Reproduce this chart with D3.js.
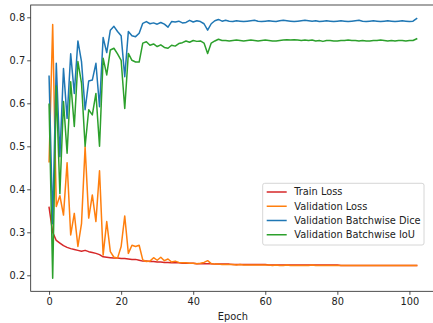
<!DOCTYPE html>
<html><head><meta charset="utf-8">
<script src="https://cdn.jsdelivr.net/npm/d3@7"></script>
<style>body{margin:0;background:#fff}svg{display:block}text{font-family:"DejaVu Sans",sans-serif}</style>
</head><body>
<svg id="c" width="433" height="323"></svg>
<script>
const seriesNames = ["Train Loss","Validation Loss","Validation Batchwise Dice","Validation Batchwise IoU"];
const trainLoss = [0.358,0.300,0.281,0.275,0.269,0.265,0.262,0.260,0.258,0.256,0.258,0.255,0.253,0.251,0.248,0.243,0.242,0.241,0.240,0.240,0.239,0.239,0.238,0.237,0.237,0.235,0.233,0.233,0.232,0.232,0.231,0.231,0.230,0.230,0.229,0.229,0.229,0.228,0.228,0.228,0.228,0.227,0.227,0.227,0.227,0.227,0.226,0.226,0.226,0.226,0.226,0.225,0.225,0.225,0.225,0.225,0.225,0.225,0.225,0.225,0.225,0.224,0.224,0.224,0.224,0.224,0.224,0.224,0.224,0.224,0.224,0.224,0.224,0.224,0.224,0.224,0.224,0.224,0.224,0.224,0.224,0.223,0.223,0.223,0.223,0.223,0.223,0.223,0.223,0.223,0.223,0.223,0.223,0.223,0.223,0.223,0.223,0.223,0.223,0.223,0.223,0.223,0.223];
const valLoss = [0.464,0.783,0.360,0.385,0.340,0.462,0.294,0.344,0.267,0.320,0.499,0.333,0.387,0.325,0.443,0.247,0.325,0.255,0.242,0.240,0.267,0.338,0.251,0.270,0.267,0.270,0.236,0.232,0.233,0.241,0.235,0.242,0.234,0.238,0.231,0.233,0.230,0.229,0.229,0.228,0.228,0.227,0.228,0.230,0.234,0.227,0.226,0.226,0.225,0.225,0.225,0.225,0.224,0.225,0.224,0.224,0.224,0.224,0.224,0.224,0.224,0.224,0.223,0.224,0.223,0.223,0.224,0.223,0.223,0.223,0.223,0.223,0.223,0.224,0.223,0.223,0.223,0.223,0.223,0.223,0.223,0.223,0.223,0.223,0.223,0.223,0.223,0.223,0.223,0.223,0.223,0.223,0.223,0.223,0.223,0.223,0.223,0.223,0.223,0.223,0.223,0.223,0.223];
const valDice = [0.663,0.320,0.693,0.476,0.681,0.565,0.715,0.623,0.745,0.697,0.585,0.652,0.654,0.693,0.592,0.753,0.718,0.770,0.779,0.767,0.757,0.662,0.767,0.757,0.755,0.763,0.786,0.790,0.785,0.787,0.784,0.788,0.784,0.777,0.790,0.789,0.791,0.787,0.788,0.793,0.789,0.792,0.790,0.785,0.770,0.785,0.792,0.795,0.791,0.793,0.791,0.790,0.792,0.791,0.790,0.791,0.792,0.793,0.791,0.790,0.791,0.792,0.791,0.790,0.792,0.793,0.792,0.791,0.790,0.791,0.792,0.793,0.792,0.791,0.792,0.790,0.791,0.792,0.791,0.790,0.791,0.792,0.791,0.790,0.791,0.792,0.793,0.791,0.790,0.791,0.792,0.791,0.790,0.791,0.792,0.791,0.790,0.791,0.792,0.791,0.790,0.791,0.797];
const valIoU = [0.598,0.193,0.640,0.390,0.604,0.484,0.650,0.546,0.697,0.647,0.500,0.585,0.573,0.623,0.500,0.705,0.666,0.724,0.728,0.715,0.700,0.588,0.716,0.700,0.696,0.696,0.740,0.743,0.735,0.738,0.732,0.736,0.730,0.728,0.735,0.733,0.739,0.741,0.745,0.742,0.746,0.744,0.745,0.740,0.716,0.740,0.745,0.749,0.746,0.746,0.745,0.746,0.747,0.746,0.745,0.746,0.747,0.746,0.745,0.746,0.747,0.746,0.745,0.745,0.746,0.747,0.748,0.747,0.748,0.747,0.746,0.747,0.746,0.747,0.745,0.746,0.744,0.746,0.746,0.745,0.745,0.746,0.746,0.747,0.746,0.746,0.745,0.746,0.745,0.745,0.746,0.746,0.747,0.746,0.745,0.746,0.745,0.746,0.746,0.745,0.746,0.746,0.750];
const xTicks = [0,20,40,60,80,100];
const yTicks = [0.2,0.3,0.4,0.5,0.6,0.7,0.8];
const colors = ["#d62728","#ff7f0e","#1f77b4","#2ca02c"];
const xLabel = "Epoch";

const svg = d3.select("#c");
const L = 30.7, R = 435, T = 5, B = 291.3;
const x = d3.scaleLinear().domain([-5.1, 107.1]).range([L, R]);
const y = d3.scaleLinear().domain([0.1628, 0.8286]).range([B, T]);

const all = [trainLoss, valLoss, valDice, valIoU];
const line = d3.line().x((d,i)=>x(i)).y(d=>y(d));
const clipG = svg.append("g");
all.forEach((s,k)=>{
  clipG.append("path").datum(s).attr("d", line).attr("fill","none")
    .attr("stroke", colors[k]).attr("stroke-width",1.5).attr("stroke-linejoin","round").attr("stroke-linecap","square");
});

// axes
const xa = svg.append("g").attr("transform",`translate(0,${B})`)
  .call(d3.axisBottom(x).tickValues(xTicks).tickFormat(d3.format("d")).tickSize(3.5).tickPadding(3.5));
const ya = svg.append("g").attr("transform",`translate(${L},0)`)
  .call(d3.axisLeft(y).tickValues(yTicks).tickFormat(d3.format(".1f")).tickSize(3.5).tickPadding(2));
[xa,ya].forEach(a=>{
  a.select(".domain").remove();
  a.selectAll(".tick line").attr("stroke","#222").attr("stroke-width",0.8);
  a.selectAll(".tick text").attr("fill","#222").style("font-size","9.8px").style("font-family","DejaVu Sans");
});
// spines
svg.append("rect").attr("x",L).attr("y",T).attr("width",R-L).attr("height",B-T)
  .attr("fill","none").attr("stroke","#222").attr("stroke-width",0.8);

svg.append("text").attr("x",(L+R)/2).attr("y",320).attr("text-anchor","middle")
  .style("font-size","9.8px").attr("fill","#222").text(xLabel);

// legend
const lg = svg.append("g");
lg.append("rect").attr("x",262.7).attr("y",183.3).attr("width",161.3).attr("height",61.7)
  .attr("rx",2).attr("fill","#fff").attr("fill-opacity",0.8).attr("stroke","#ccc").attr("stroke-width",0.8);
seriesNames.forEach((n,i)=>{
  const yy = 192 + i*14.25;
  lg.append("line").attr("x1",266.7).attr("x2",286.7).attr("y1",yy).attr("y2",yy)
    .attr("stroke",colors[i]).attr("stroke-width",1.5);
  lg.append("text").attr("x",294.3).attr("y",yy).attr("dy","0.35em")
    .style("font-size","9.8px").attr("fill","#222").text(n);
});
</script>
</body></html>
